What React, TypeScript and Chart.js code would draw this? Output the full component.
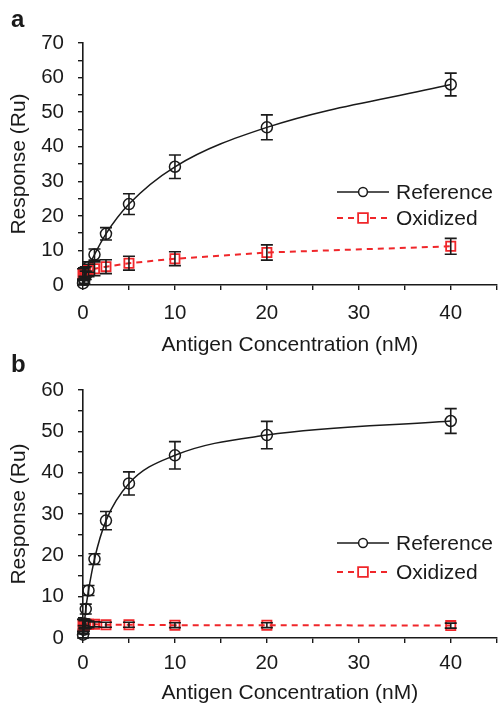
import React, { useEffect, useRef } from 'react';
import { Chart, registerables } from 'chart.js';

Chart.register(...registerables);

// ---------- data ----------
const concA = [0, 0.15, 0.3, 0.6, 1.25, 2.5, 5, 10, 20, 40];
const refA = [0.5, 1.5, 2.8, 5.2, 8.8, 14.8, 23.4, 34.2, 45.6, 58.0];
const refErrA = [0.8, 1.0, 1.2, 1.5, 1.6, 1.8, 3.0, 3.4, 3.6, 3.3];
const oxA = [3.2, 3.5, 3.8, 4.2, 4.7, 5.3, 6.3, 7.6, 9.4, 11.2];
const oxErrA = [1.5, 1.5, 1.5, 1.8, 2.0, 2.0, 2.0, 2.0, 2.2, 2.3];

const concB = [0, 0.08, 0.15, 0.3, 0.6, 1.25, 2.5, 5, 10, 20, 40];
const refB = [0.8, 2.0, 3.5, 7.0, 11.5, 19.1, 28.4, 37.4, 44.2, 49.1, 52.5];
const refErrB = [0.8, 1.0, 1.0, 1.2, 1.2, 1.3, 2.2, 2.8, 3.3, 3.3, 3.0];
const oxB = [3.0, 3.1, 3.2, 3.3, 3.3, 3.3, 3.2, 3.2, 3.1, 3.1, 3.0];
const oxErrB = [1.5, 1.5, 1.0, 1.0, 0.8, 0.6, 0.6, 0.6, 0.6, 0.6, 0.6];

const xTickLabels = [0, 10, 20, 30, 40];
const yTickLabelsA = [0, 10, 20, 30, 40, 50, 60, 70];
const yTickLabelsB = [0, 10, 20, 30, 40, 50, 60];

const seriesNames = ['Reference', 'Oxidized'];
const xTitle = 'Antigen Concentration (nM)';
const yTitle = 'Response (Ru)';

const FONT = '"Liberation Sans", Arial, sans-serif';
const RED = '#f0262a';
const BLACK = '#1a1a1a';
const CANVAS_W = 505;

const toPts = (xs: number[], ys: number[]) => xs.map((x, i) => ({ x, y: ys[i] }));

const errorBarPlugin = {
  id: 'errorBars',
  afterDatasetsDraw(chart: any, _args: any, opts: any) {
    const { ctx } = chart;
    const xs = chart.scales.x;
    const ys = chart.scales.y;
    chart.data.datasets.forEach((ds: any, i: number) => {
      const errs = opts.errors[i];
      if (!errs) return;
      ctx.save();
      ctx.strokeStyle = opts.color;
      ctx.lineWidth = opts.width;
      ctx.setLineDash([]);
      ds.data.forEach((p: any, j: number) => {
        const px = xs.getPixelForValue(p.x);
        const top = ys.getPixelForValue(p.y + errs[j]);
        const bot = ys.getPixelForValue(Math.max(0, p.y - errs[j]));
        const c = opts.cap;
        ctx.beginPath();
        ctx.moveTo(px, top);
        ctx.lineTo(px, bot);
        ctx.moveTo(px - c, top);
        ctx.lineTo(px + c, top);
        ctx.moveTo(px - c, bot);
        ctx.lineTo(px + c, bot);
        ctx.stroke();
      });
      ctx.restore();
    });
  },
};

const legendPlugin = {
  id: 'lineLegend',
  afterDraw(chart: any, _args: any, opts: any) {
    const { ctx } = chart;
    chart.data.datasets.forEach((ds: any, i: number) => {
      const y = opts.rows[i];
      ctx.save();
      ctx.strokeStyle = ds.borderColor;
      ctx.lineWidth = ds.borderWidth;
      ctx.setLineDash(ds.borderDash || []);
      ctx.beginPath();
      ctx.moveTo(opts.x0, y);
      ctx.lineTo(opts.x1, y);
      ctx.stroke();
      ctx.setLineDash([]);
      const mx = (opts.x0 + opts.x1) / 2;
      const r = ds.pointRadius;
      ctx.lineWidth = ds.pointBorderWidth;
      ctx.strokeStyle = ds.pointBorderColor;
      ctx.fillStyle = '#ffffff';
      ctx.beginPath();
      if (ds.pointStyle === 'rect') {
        ctx.rect(mx - r * 0.75, y - r * 0.75, r * 1.5, r * 1.5);
      } else {
        ctx.arc(mx, y, r * 0.8, 0, Math.PI * 2);
      }
      ctx.fill();
      ctx.stroke();
      ctx.fillStyle = BLACK;
      ctx.font = `21px ${FONT}`;
      ctx.textBaseline = 'middle';
      ctx.textAlign = 'left';
      ctx.fillText(seriesNames[i], opts.textX, y + 1);
      ctx.restore();
    });
  },
};

type PanelProps = {
  height: number;
  conc: number[];
  ref: number[];
  refErr: number[];
  ox: number[];
  oxErr: number[];
  yMax: number;
  yLabels: number[];
  padTop: number;
  xAxisH: number;
  tickLH: number;
  titleBottom: number;
  legendRows: number[];
};

function Panel(p: PanelProps) {
  const ref = useRef<HTMLCanvasElement | null>(null);
  useEffect(() => {
    if (!ref.current) return;
    const chart = new Chart(ref.current, {
      type: 'line',
      data: {
        datasets: [
          {
            label: seriesNames[0],
            data: toPts(p.conc, p.ref),
            borderColor: BLACK,
            borderWidth: 1.5,
            pointStyle: 'circle',
            pointRadius: 5.5,
            pointBorderWidth: 1.5,
            pointBorderColor: BLACK,
            pointBackgroundColor: 'rgba(255,255,255,0)',
            cubicInterpolationMode: 'monotone',
            clip: false,
            order: 1,
          } as any,
          {
            label: seriesNames[1],
            data: toPts(p.conc, p.ox),
            borderColor: RED,
            borderWidth: 2,
            borderDash: [6, 5],
            pointStyle: 'rect',
            pointRadius: 6.5,
            pointBorderWidth: 1.8,
            pointBorderColor: RED,
            pointBackgroundColor: 'rgba(255,255,255,0)',
            clip: false,
            order: 0,
          } as any,
        ],
      },
      options: {
        animation: false,
        responsive: false,
        events: [],
        layout: { padding: { top: p.padTop, left: 0, right: 0, bottom: 0 } },
        plugins: {
          legend: { display: false },
          tooltip: { enabled: false },
          errorBars: { errors: [p.refErr, p.oxErr], color: BLACK, width: 1.6, cap: 6 },
          lineLegend: { rows: p.legendRows, x0: 337, x1: 389, textX: 396 },
        } as any,
        scales: {
          x: {
            type: 'linear',
            min: 0,
            max: 45,
            afterFit: (s: any) => {
              s.height = p.xAxisH;
            },
            border: { color: BLACK, width: 1.6 },
            grid: { drawOnChartArea: false, drawTicks: true, tickLength: 5, color: BLACK, lineWidth: 1.4 },
            ticks: {
              stepSize: 5,
              padding: 0,
              color: BLACK,
              font: { family: FONT, size: 20.5, lineHeight: p.tickLH },
              maxRotation: 0,
              autoSkip: false,
              callback: (v: any) => (xTickLabels.includes(Number(v)) ? String(v) : ''),
            },
            title: {
              display: true,
              text: xTitle,
              color: BLACK,
              font: { family: FONT, size: 21, lineHeight: 1 },
              padding: { top: 0, bottom: p.titleBottom },
            },
          },
          y: {
            type: 'linear',
            min: 0,
            max: p.yMax,
            afterFit: (s: any) => {
              s.width = 83;
            },
            border: { color: BLACK, width: 1.6 },
            grid: { drawOnChartArea: false, drawTicks: true, tickLength: 5, color: BLACK, lineWidth: 1.4 },
            ticks: {
              stepSize: 5,
              padding: 14,
              color: BLACK,
              font: { family: FONT, size: 20.5 },
              autoSkip: false,
              callback: (v: any) => (p.yLabels.includes(Number(v)) ? String(v) : ''),
            },
            title: {
              display: true,
              text: yTitle,
              color: BLACK,
              font: { family: FONT, size: 21, lineHeight: 1.2 },
              padding: { top: 7, bottom: 0 },
            },
          },
        },
      },
      plugins: [errorBarPlugin, legendPlugin],
    });
    return () => chart.destroy();
  }, []);
  return (
    <canvas
      ref={ref}
      width={CANVAS_W}
      height={p.height}
      style={{ display: 'block', width: CANVAS_W, height: p.height }}
    />
  );
}

const letterStyle: React.CSSProperties = {
  position: 'absolute',
  left: 11,
  fontFamily: FONT,
  fontWeight: 'bold',
  fontSize: 24,
  lineHeight: 1,
  color: BLACK,
};

export default function App() {
  return (
    <div style={{ position: 'absolute', left: 0, top: 0, width: 499, height: 703, background: '#fff', overflow: 'hidden' }}>
      <Panel
        height={356}
        conc={concA}
        ref={refA}
        refErr={refErrA}
        ox={oxA}
        oxErr={oxErrA}
        yMax={70}
        yLabels={yTickLabelsA}
        padTop={43}
        xAxisH={71}
        tickLH={2.24}
        titleBottom={0.5}
        legendRows={[192, 218]}
      />
      <Panel
        height={347}
        conc={concB}
        ref={refB}
        refErr={refErrB}
        ox={oxB}
        oxErr={oxErrB}
        yMax={60}
        yLabels={yTickLabelsB}
        padTop={34}
        xAxisH={65}
        tickLH={1.95}
        titleBottom={-0.5}
        legendRows={[187, 216]}
      />
      <div style={{ ...letterStyle, top: 7 }}>a</div>
      <div style={{ ...letterStyle, top: 352 }}>b</div>
    </div>
  );
}
